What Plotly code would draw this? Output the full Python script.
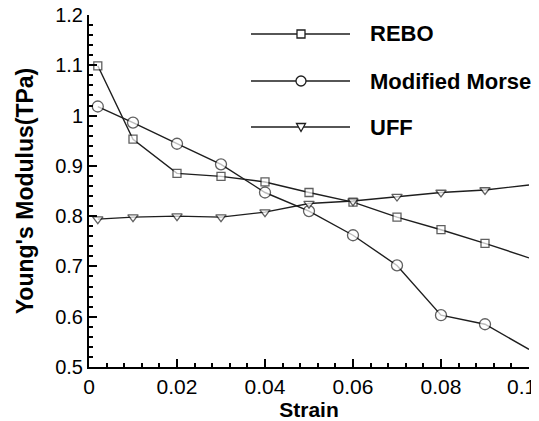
import plotly.graph_objects as go

strain = [0.002, 0.01, 0.02, 0.03, 0.04, 0.05, 0.06, 0.07, 0.08, 0.09, 0.1]
rebo = [1.099, 0.953, 0.885, 0.879, 0.868, 0.847, 0.828, 0.798, 0.773, 0.746, 0.717]
morse = [1.018, 0.986, 0.944, 0.903, 0.847, 0.810, 0.762, 0.702, 0.603, 0.585, 0.535]
uff = [0.794, 0.798, 0.800, 0.798, 0.808, 0.825, 0.830, 0.839, 0.847, 0.852, 0.862]

x_tickvals = [0, 0.02, 0.04, 0.06, 0.08, 0.1]
x_ticktext = ["0", "0.02", "0.04", "0.06", "0.08", "0.1"]

names = ["REBO", "Modified Morse", "UFF"]
symbols = ["square", "circle", "triangle-down"]
msizes = [8, 11, 9]
values = [rebo, morse, uff]

# page body has an 8px margin, so the figure is drawn 8px in from the corner
OFF = 8
W, H = 539 - OFF, 421 - OFF
L, R, T, B = 81, 10, 7, 54
PW, PH = W - L - R, H - T - B
LINE = "#1e1e1e"
FONT = "Liberation Sans, Arial, sans-serif"

fig = go.Figure()
for name, vals, sym, sz in zip(names, values, symbols, msizes):
    sizes = [sz] * (len(vals) - 1) + [0]
    fig.add_trace(go.Scatter(
        x=strain, y=vals, name=name, mode="lines+markers", showlegend=False,
        line=dict(color=LINE, width=1.4),
        marker=dict(symbol=sym, size=sizes, color="white",
                    line=dict(color=LINE, width=1.3)),
    ))

# hand-drawn legend (long sample lines like the original); positions in page pixels
def px(xp):
    return (xp - OFF - L) / PW

def py(yp):
    return (H - B - (yp - OFF)) / PH

leg_rows = [34, 81, 127]
line_x0, line_x1, mark_x, text_x = 251, 350, 301, 368
shapes = []
annotations = []
for name, sym, row in zip(names, symbols, leg_rows):
    shapes.append(dict(type="line", xref="paper", yref="paper",
                       x0=px(line_x0), x1=px(line_x1), y0=py(row), y1=py(row),
                       line=dict(color=LINE, width=1.6)))
    common = dict(xref="paper", yref="paper", xsizemode="pixel", ysizemode="pixel",
                  xanchor=px(mark_x), yanchor=py(row), fillcolor="white",
                  line=dict(color=LINE, width=1.3))
    if sym == "square":
        shapes.append(dict(type="rect", x0=-4, x1=4, y0=-4, y1=4, **common))
    elif sym == "circle":
        shapes.append(dict(type="circle", x0=-5, x1=5, y0=-5, y1=5, **common))
    else:
        shapes.append(dict(type="path", path="M-4.5,3.5 L4.5,3.5 L0,-4.5 Z", **common))
    annotations.append(dict(text="<b>%s</b>" % name, xref="paper", yref="paper",
                            x=px(text_x), y=py(row), xanchor="left", yanchor="middle",
                            showarrow=False, font=dict(size=22, family=FONT, color="black")))

# last x tick label sits at the very edge of the figure; keep it whole
annotations.append(dict(text=x_ticktext[-1], xref="paper", yref="paper",
                        x=1, y=0, xanchor="right", yanchor="middle",
                        xshift=R - 1, yshift=-19, showarrow=False,
                        font=dict(size=21, family=FONT, color="black")))

fig.update_layout(
    width=W, height=H,
    margin=dict(l=L, r=R, t=T, b=B),
    paper_bgcolor="white", plot_bgcolor="white",
    font=dict(family=FONT, size=20, color="black"),
    showlegend=False,
    shapes=shapes, annotations=annotations,
)
fig.update_xaxes(
    range=[0, 0.1], tickvals=x_tickvals, ticktext=x_ticktext[:-1] + [""],
    showgrid=False, zeroline=False,
    showline=True, linecolor="black", linewidth=2, automargin=False,
    ticks="inside", ticklen=8, tickwidth=1.5, tickcolor="black",
    ticklabeloverflow="allow",
    minor=dict(ticks="inside", tick0=0, dtick=0.004, ticklen=4, tickcolor="black", showgrid=False),
    title=dict(text="<b>Strain</b>", standoff=4, font=dict(size=21)),
    tickfont=dict(size=21),
)
fig.update_yaxes(
    range=[0.5, 1.2], dtick=0.1, tick0=0.5, showgrid=False, zeroline=False,
    showline=True, linecolor="black", linewidth=2, automargin=False,
    ticks="inside", ticklen=8, tickwidth=1.5, tickcolor="black",
    ticklabeloverflow="allow",
    minor=dict(ticks="inside", dtick=0.02, ticklen=4, tickcolor="black", showgrid=False),
    title=dict(text="<b>Young's Modulus(TPa)</b>", standoff=15, font=dict(size=23)),
    tickfont=dict(size=20),
)

fig.write_html("out.html")
